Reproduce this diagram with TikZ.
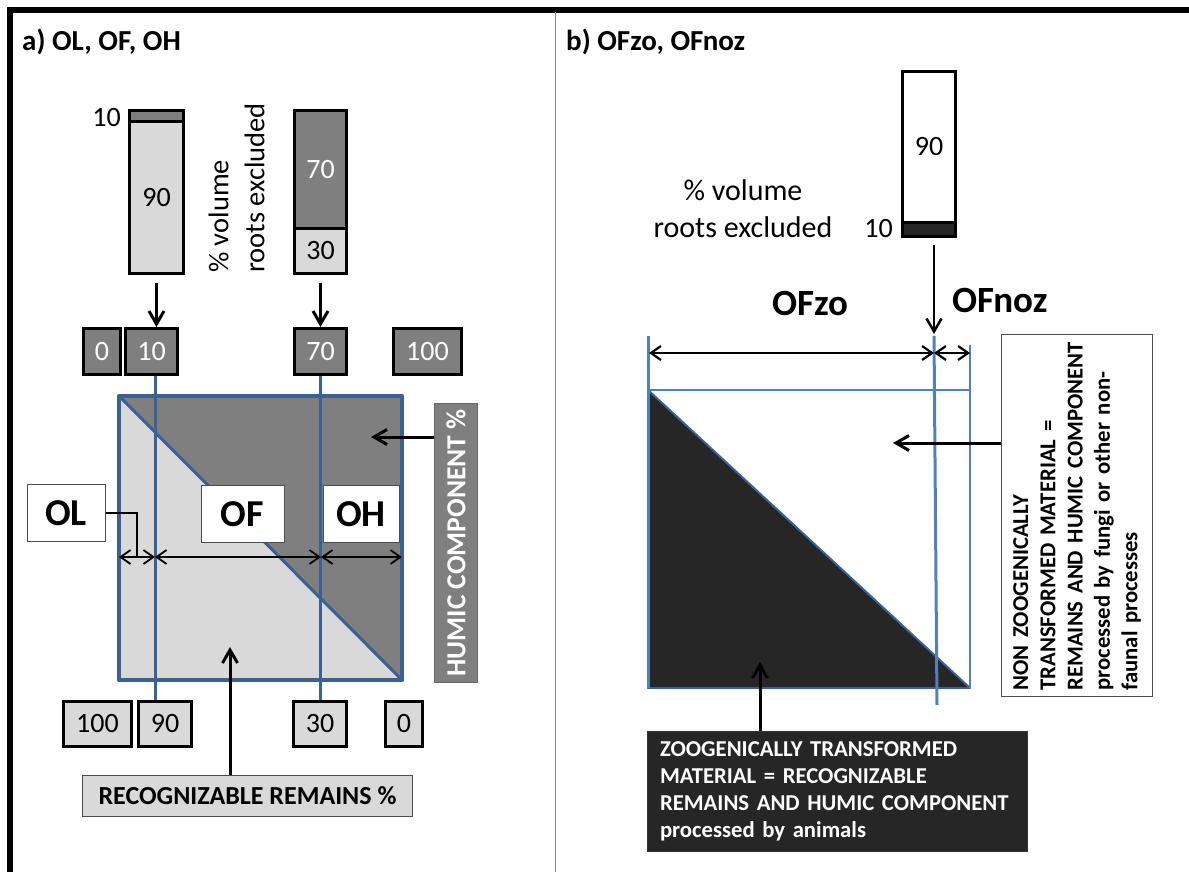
\documentclass[tikz,border=0pt]{standalone}
\usepackage{fontspec}
\setmainfont{Carlito}
\usetikzlibrary{arrows.meta}
\definecolor{dgray}{HTML}{7F7F7F}
\definecolor{lgray}{HTML}{D9D9D9}
\definecolor{sqblue}{HTML}{3A6194}
\definecolor{lnblue}{HTML}{4F81BD}
\definecolor{coal}{HTML}{262626}
\begin{document}
\begin{tikzpicture}[x=1pt,y=-1pt,>={Straight Barb[length=13pt,width=15pt]},
	numbox/.style={draw=black,line width=3pt,minimum height=46pt,inner sep=0pt,font=\fontsize{28}{34}\selectfont},
	upbox/.style={numbox,fill=dgray,text=white},
	lowbox/.style={numbox,fill=lgray,minimum height=45pt},
	barpart/.style={draw=black,line width=3pt,inner sep=0pt,font=\fontsize{28}{34}\selectfont},
	hlabel/.style={draw=black!70,line width=1pt,fill=white,minimum height=57pt,inner sep=0pt,font=\bfseries\fontsize{38}{44}\selectfont},
	arr/.style={->,line width=3pt},
	dimarr/.style={<->,>={Straight Barb[length=10pt,width=14pt]},line width=1.8pt},
	sqline/.style={sqblue,line width=3pt}]
	\useasboundingbox (0,0) rectangle (1189,872);
	\draw[line width=5.5pt] (10,872) -- (10,10) -- (1189,10);
	\draw[black!45,line width=1pt] (555,12) -- (555,872);
	%\draw[line width=5.5pt] (1189,10) -- (1189,872);
	\node[anchor=west,inner sep=0pt,font=\bfseries\fontsize{29}{34}\selectfont] (tita) at (22,42) {a) OL, OF, OH};
	\node[anchor=west,inner sep=0pt,font=\bfseries\fontsize{29}{34}\selectfont] (titb) at (566,42) {b) OFzo, OFnoz};
	% panel a
	\node[barpart,fill=dgray,minimum width=54pt,minimum height=11.5pt] (lbar10) at (156.5,116.25) {};
	\node[barpart,fill=lgray,minimum width=54pt,minimum height=151.5pt] (lbar90) at (156.5,197.75) {90};
	\node[anchor=east,inner sep=0pt,font=\fontsize{28}{34}\selectfont] (l10) at (121,118) {10};
	\node[barpart,fill=dgray,text=white,minimum width=52pt,minimum height=117.5pt] (lbar70) at (320.5,169.25) {70};
	\node[barpart,fill=lgray,minimum width=52pt,minimum height=45.5pt] (lbar30) at (320.5,250.75) {30};
	\node[rotate=90,align=left,inner sep=0pt,font=\fontsize{28.5}{36}\selectfont] (lvol) at (236.5,188) {\% volume\\roots excluded};
	\node[minimum width=282.5pt,minimum height=283.5pt,inner sep=0pt] (lsq) at (260.5,538) {};
	\fill[lgray] (lsq.north west) rectangle (lsq.south east);
	\fill[dgray] (lsq.north west) -- (lsq.north east) -- (lsq.south east) -- cycle;
	\coordinate (xa) at (155,0);
	\coordinate (xb) at (320,0);
	\draw[sqline] (376,376 -| xa) -- (700,700 -| xa);
	\draw[sqline] (376,376 -| xb) -- (700,700 -| xb);
	\draw[sqline] (lsq.north west) -- (lsq.south east);
	\draw[sqblue,line width=4.5pt,line join=round] (lsq.north west) rectangle (lsq.south east);
	\node[upbox,minimum width=37pt] (t0) at (102,351.5) {0};
	\node[upbox,minimum width=52pt] (t10) at (151.5,351.5) {10};
	\node[upbox,minimum width=52pt] (t70) at (320.5,351.5) {70};
	\node[upbox,minimum width=68pt] (t100) at (427.5,351.5) {100};
	\node[lowbox,minimum width=68pt] (b100) at (97.5,724) {100};
	\node[lowbox,minimum width=53pt] (b90) at (165,724) {90};
	\node[lowbox,minimum width=53pt] (b30) at (320,724) {30};
	\node[lowbox,minimum width=37pt] (b0) at (404,724) {0};
	\draw[arr,shorten <=8pt] (lbar90.south) -- (lbar90.south |- t10.north);
	\draw[arr,shorten <=8pt] (lbar30.south) -- (lbar30.south |- t70.north);
	\node[hlabel,minimum width=78pt] (ol) at (66,513) {OL};
	\node[hlabel,minimum width=83pt] (of) at (242.5,514) {OF};
	\node[hlabel,minimum width=76pt] (oh) at (361,514) {OH};
	\coordinate (olend) at (137,556);
	\draw[line width=1.5pt] (ol.east) -| (olend);
	\coordinate (la) at (119,557);
	\coordinate (lb) at (155,557);
	\coordinate (lc) at (321,557);
	\coordinate (ld) at (402,557);
	\draw[dimarr] (la) -- (lb);
	\draw[dimarr] (lb) -- (lc);
	\draw[dimarr] (lc) -- (ld);
	\node[rotate=90,fill=dgray,draw=black!60,line width=1pt,minimum width=279pt,minimum height=43pt,inner sep=0pt,text=white,font=\bfseries\fontsize{27.5}{32}\selectfont] (hum) at (456,543) {HUMIC COMPONENT \%};
	\coordinate (humtip) at (371,437);
	\draw[arr] (hum.north |- humtip) -- (humtip);
	\node[fill=lgray,draw=black!70,line width=1pt,minimum width=330pt,minimum height=41pt,inner sep=0pt,font=\bfseries\fontsize{26}{30}\selectfont] (rec) at (247.5,796) {RECOGNIZABLE REMAINS \%};
	\coordinate (rectip) at (230,647);
	\draw[arr] (rectip |- rec.north) -- (rectip);
	% panel b
	\node[barpart,fill=white,minimum width=53pt,minimum height=150.5pt] (rbar90) at (929,146.75) {90};
	\node[barpart,fill=coal,minimum width=53pt,minimum height=14.5pt] (rbar10) at (929,229.25) {};
	\node[anchor=east,inner sep=0pt,font=\fontsize{28}{34}\selectfont] (r10) at (893,229) {10};
	\node[align=center,inner sep=0pt,font=\fontsize{30}{37}\selectfont] (rvol) at (743,208.5) {\% volume\\roots excluded};
	\node[minimum width=322pt,minimum height=298pt,inner sep=0pt] (rsq) at (809,539) {};
	\fill[coal] (rsq.north west) -- (rsq.south west) -- (rsq.south east) -- cycle;
	\draw[sqblue,line width=2pt] (rsq.north west) -- (rsq.south east);
	\draw[lnblue,line width=2pt] (rsq.north west) rectangle (rsq.south east);
	\draw[sqblue,line width=2.5pt] (rsq.south west) -- (rsq.south east);
	\coordinate (zl) at (648,336);
	\coordinate (zm) at (934,336);
	\coordinate (zmb) at (937,705);
	\coordinate (zr) at (970,345);
	\draw[lnblue,line width=3pt] (zl) -- (zl |- rsq.south);
	\draw[lnblue,line width=3pt] (zm) -- (zmb);
	\draw[lnblue,line width=2pt] (zr) -- (zr |- rsq.south);
	\draw[arr,line width=2.5pt,shorten <=7pt,shorten >=2pt] (rbar10.south -| zm) -- (zm);
	\coordinate (ra) at (649,353);
	\coordinate (rb) at (934,353);
	\coordinate (rc) at (970,353);
	\draw[dimarr,line width=2.2pt] (ra) -- (rb);
	\draw[dimarr,line width=2.2pt] (rb) -- (rc);
	\node[anchor=base,inner sep=0pt,font=\bfseries\fontsize{37}{44}\selectfont] (ofzo) at (810,315) {OFzo};
	\node[anchor=base west,inner sep=0pt,font=\bfseries\fontsize{37}{44}\selectfont] (ofnoz) at (952,312) {OFnoz};
	\node[rotate=90,fill=white,draw=black!70,line width=1pt,minimum width=362pt,minimum height=151pt,text width=350pt,inner xsep=6pt,inner ysep=0pt,align=left,font=\bfseries\fontsize{22.7}{27.3}\selectfont] (nonz) at (1077,515.5) {NON ZOOGENICALLY\\TRANSFORMED MATERIAL =\\REMAINS AND HUMIC COMPONENT\\processed by fungi or other non-\\faunal processes};
	\coordinate (nontip) at (893,443);
	\draw[arr] (nonz.north |- nontip) -- (nontip);
	\node[fill=coal,draw=black!80,line width=1pt,minimum width=380pt,minimum height=120pt,text width=354pt,inner xsep=13pt,inner ysep=0pt,align=left,text=white,font=\bfseries\fontsize{22.7}{27}\selectfont] (zoo) at (837,791) {ZOOGENICALLY TRANSFORMED\\MATERIAL = RECOGNIZABLE\\REMAINS AND HUMIC COMPONENT\\processed by animals};
	\coordinate (zootip) at (760,662);
	\draw[arr] (zootip |- zoo.north) -- (zootip);
\end{tikzpicture}
\end{document}
